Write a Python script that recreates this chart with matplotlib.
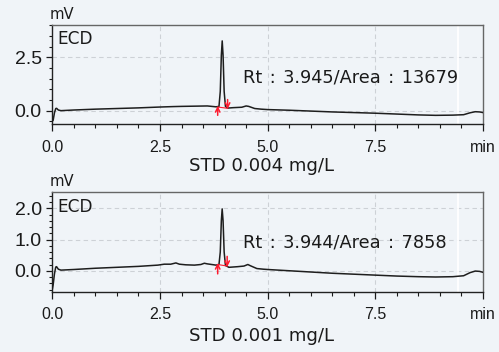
import numpy as np
import matplotlib
matplotlib.use("Agg")
import matplotlib.pyplot as plt
from matplotlib.ticker import MultipleLocator, FixedLocator, FuncFormatter

# chromatogram traces (time in min, signal in mV)
t_hi = [0.0, 0.02, 0.05, 0.08, 0.1, 0.14, 0.2, 0.5, 1.0, 1.5, 2.0, 2.5, 2.8, 3.0,
        3.3, 3.6, 3.8, 3.87, 3.9, 3.925, 3.945, 3.965, 3.99, 4.02, 4.07, 4.2, 4.4,
        4.5, 4.56, 4.7, 4.85, 5.0, 5.5, 6.0, 6.5, 7.0, 7.5, 8.0, 8.5, 8.9, 9.3,
        9.55, 9.7, 9.82, 9.92, 10.0]
mv_hi = [-0.5, -0.45, -0.1, 0.1, 0.11, 0.03, 0.0, 0.03, 0.07, 0.1, 0.13, 0.17, 0.19, 0.2,
         0.21, 0.22, 0.18, 0.2, 0.9, 2.6, 3.27, 2.6, 0.9, 0.2, 0.12, 0.14, 0.16,
         0.22, 0.2, 0.1, 0.07, 0.05, 0.02, -0.02, -0.06, -0.09, -0.12, -0.16, -0.2, -0.22, -0.21,
         -0.19, -0.1, -0.05, -0.06, -0.09]

t_lo = [0.0, 0.02, 0.05, 0.08, 0.1, 0.14, 0.2, 0.5, 1.0, 1.5, 2.0, 2.45, 2.6, 2.75,
        2.87, 2.95, 3.1, 3.3, 3.45, 3.53, 3.6, 3.8, 3.87, 3.9, 3.925, 3.944, 3.965,
        3.99, 4.02, 4.1, 4.3, 4.45, 4.54, 4.6, 4.75, 4.9, 5.0, 5.5, 6.0, 6.5, 7.0,
        7.5, 8.0, 8.5, 8.9, 9.3, 9.55, 9.7, 9.82, 9.92, 10.0]
mv_lo = [-0.6, -0.45, -0.1, 0.12, 0.13, 0.05, 0.02, 0.04, 0.08, 0.11, 0.14, 0.18, 0.21, 0.21,
         0.25, 0.21, 0.19, 0.18, 0.2, 0.24, 0.22, 0.18, 0.2, 0.6, 1.6, 1.98, 1.6,
         0.6, 0.17, 0.11, 0.13, 0.15, 0.2, 0.16, 0.07, 0.05, 0.04, 0.0, -0.04, -0.08, -0.11,
         -0.14, -0.17, -0.19, -0.2, -0.19, -0.16, -0.06, -0.01, -0.02, -0.05]

# integration start/end markers: (time, arrow tail mV, arrow head mV)
start_hi, end_hi = (3.84, -0.22, 0.22), (4.07, 0.52, 0.08)
start_lo, end_lo = (3.84, -0.1, 0.25), (4.06, 0.46, 0.12)

rt_labels = ["Rt\u200a : \u200a3.945/Area\u200a : \u200a13679",
             "Rt\u200a : \u200a3.944/Area\u200a : \u200a7858"]
std_labels = ["STD 0.004 mg/L", "STD 0.001 mg/L"]

bg = "#f0f4f8"
W, H = 499, 352
plt.rcParams["font.family"] = "DejaVu Sans"

fig = plt.figure(figsize=(W / 100, H / 100), dpi=100, facecolor=bg)


def fx(px):
    return px / W


def fy(py):
    return 1 - py / H


def make_axes(top, bottom, ylim, major, minor, t, mv, start, end):
    ax = fig.add_axes([fx(52.3), fy(bottom), fx(483) - fx(52.3), fy(top) - fy(bottom)])
    ax.set_facecolor(bg)
    ax.set_xlim(0, 10)
    ax.set_ylim(*ylim)
    ax.xaxis.set_major_locator(FixedLocator([0, 2.5, 5, 7.5, 10]))
    ax.xaxis.set_minor_locator(MultipleLocator(0.5))
    ax.xaxis.set_major_formatter(FuncFormatter(lambda v, p: "min" if v >= 10 else f"{v:.1f}"))
    ax.yaxis.set_major_locator(FixedLocator(major))
    ax.yaxis.set_minor_locator(MultipleLocator(minor))
    ax.yaxis.set_major_formatter(FuncFormatter(lambda v, p: f"{v:.1f}"))
    for g in (2.5, 5, 7.5):
        ax.axvline(g, color="#cdd1d6", lw=0.8, ls=(0, (4, 3)), zorder=0)
    for g in major:
        ax.axhline(g, color="#cdd1d6", lw=0.8, ls=(0, (4, 3)), zorder=0)
    ax.axvline(9.43, color="white", lw=1.3, zorder=0.5)
    ax.tick_params(axis="x", which="major", length=5, width=0.9, pad=6,
                   labelsize=11.5, colors="#1a1a1a")
    ax.tick_params(axis="x", which="minor", length=3, width=0.8, colors="#1a1a1a")
    ax.tick_params(axis="y", which="major", length=4, width=0.9, pad=3.6,
                   labelsize=14, colors="#1a1a1a")
    ax.tick_params(axis="y", which="minor", length=2.2, width=0.8, colors="#1a1a1a")
    for lab in ax.get_xticklabels() + ax.get_yticklabels():
        lab.set_fontfamily("Liberation Sans")
    for s in ("left", "bottom"):
        ax.spines[s].set_color("#222222")
        ax.spines[s].set_linewidth(1.0)
    for s in ("top", "right"):
        ax.spines[s].set_color("#666666")
        ax.spines[s].set_linewidth(1.0)

    ax.plot(t, mv, color="#1e1e1e", lw=1.1, zorder=3)

    red = "#ff1a2e"
    ax.plot([start[0], end[0]], [start[2] - 0.05, end[2] + 0.03], color=red, lw=0.8, zorder=4)
    for x, y0, y1 in (start, end):
        ax.annotate("", xy=(x, y1), xytext=(x, y0),
                    arrowprops=dict(arrowstyle="->", color=red, lw=1.1,
                                    mutation_scale=8, shrinkA=0, shrinkB=0),
                    zorder=5)
    return ax


make_axes(24.7, 124.3, (-0.64, 4.03), [0, 2.5], 0.5, t_hi, mv_hi, start_hi, end_hi)
make_axes(192, 292, (-0.68, 2.52), [0, 1, 2], 0.2, t_lo, mv_lo, start_lo, end_lo)

txt = "#1a1a1a"
for base_mv, base_ecd, base_rt, base_std, rt, std in (
        (19.0, 44.0, 82.3, 170.7, rt_labels[0], std_labels[0]),
        (186.5, 211.7, 247.7, 341.0, rt_labels[1], std_labels[1])):
    fig.text(fx(50), fy(base_mv), "mV", fontsize=10.6, color=txt, va="baseline")
    fig.text(fx(57.3), fy(base_ecd), "ECD", fontsize=12.2, color=txt, va="baseline")
    fig.text(fx(243), fy(base_rt), rt, fontsize=12.8, color=txt, va="baseline")
    fig.text(fx(261.7), fy(base_std), std, fontsize=13.1, color=txt,
             va="baseline", ha="center")

fig.savefig("out.png", dpi=100, facecolor=bg)
